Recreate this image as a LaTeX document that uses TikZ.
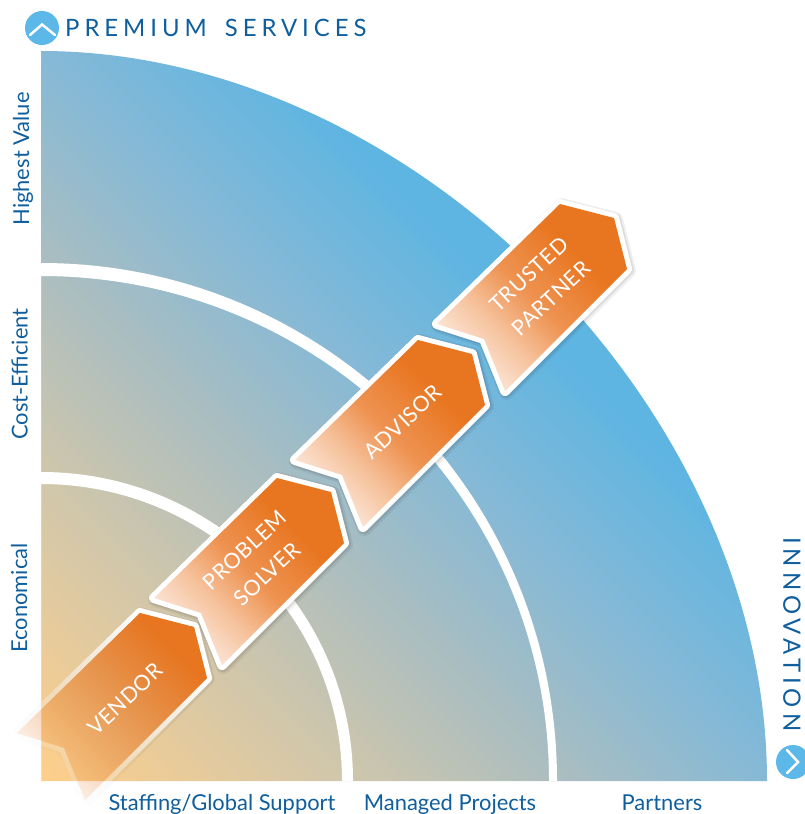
\documentclass[tikz,border=0pt]{standalone}
\usepackage{fontspec}
\usetikzlibrary{fadings}
\setmainfont{Lato}
\definecolor{bgwarm}{HTML}{FFCF8A}
\definecolor{bgwarmb}{HTML}{D2C7AA}
\definecolor{bgmid}{HTML}{AEBEBE}
\definecolor{bgmidb}{HTML}{86B9D6}
\definecolor{bgblue}{HTML}{5FB5E2}
\definecolor{ribon}{HTML}{E8751F}
\definecolor{riblight}{HTML}{FBE3D3}
\definecolor{ribmid}{HTML}{F6C29C}
\definecolor{ribmidb}{HTML}{EE9352}
\definecolor{inkblue}{HTML}{0F5F9E}
\definecolor{dotblue}{HTML}{5BB8E8}
\pgfdeclarehorizontalshading{bgshade}{1300bp}{color(0bp)=(bgwarm); color(209bp)=(bgwarmb); color(357bp)=(bgmid); color(515bp)=(bgmidb); color(670bp)=(bgblue); color(1300bp)=(bgblue)}
\pgfdeclarehorizontalshading{ribshade}{420bp}{color(0bp)=(riblight); color(40bp)=(ribmid); color(85bp)=(ribmidb); color(150bp)=(ribon); color(300bp)=(ribon)}
\pgfdeclarehorizontalshading{vfadeshade}{420bp}{color(0bp)=(black!88!white); color(172bp)=(white); color(300bp)=(white)}
\pgfdeclarefading{vfade}{\pgfuseshading{vfadeshade}}
\newcommand{\ribbonshape}{(140,613) -- (194,627) -- (207,678) -- (85,800) -- (64,748) -- (17,733) -- cycle}
\tikzset{
  ribbontext/.style={text=white,font=\fontsize{21.5}{33}\selectfont\addfontfeature{LetterSpace=3},rotate=43,align=center,inner sep=0pt},
  axislabel/.style={text=inkblue,font=\fontsize{22}{26}\selectfont,inner sep=0pt,anchor=base},
  headlabel/.style={text=inkblue,font=\fontsize{24}{28}\selectfont\addfontfeature{LetterSpace=20.7},inner sep=0pt},
  chevron/.style={draw=white,line width=2.5bp,line cap=round,line join=miter},
  dot/.style={fill=dotblue,draw=none}
}
\newcommand{\opaqueribbon}[2]{%
  \begin{scope}[shift={(#1,#2)}]
    \draw[black,opacity=.06,line width=15bp,line join=round,shift={(1.5,1.5)}] \ribbonshape;
    \draw[black,opacity=.08,line width=12bp,line join=round,shift={(1,1)}] \ribbonshape;
    \draw[white,line width=10bp,line join=round] \ribbonshape;
    \begin{scope}
      \clip \ribbonshape;
      \node[rotate=45,anchor=west,inner sep=0pt,outer sep=0pt] at (17,733) {\pgfuseshading{ribshade}};
    \end{scope}
  \end{scope}}
\begin{document}
\begin{tikzpicture}[x=1bp,y=-1bp]
\useasboundingbox (0,0) rectangle (805,814);
\fill[white] (0,0) rectangle (805,814);
% background sectors with a single gradient
\begin{scope}
  \clip (41,781) -- (41,51) .. controls (411,51) and (767,409) .. (767,781) -- cycle;
  \node[rotate=45,anchor=west,inner sep=0pt,outer sep=0pt] at (41,781) {\pgfuseshading{bgshade}};
\end{scope}
% white rings
\fill[white,even odd rule] (41,781) -- (41,263) arc[start angle=90,end angle=0,x radius=516bp,y radius=518bp] -- cycle
  (41,781) -- (41,276) arc[start angle=90,end angle=0,x radius=508bp,y radius=505bp] -- cycle;
\fill[white,even odd rule] (41,781) -- (41,472) arc[start angle=90,end angle=0,x radius=312bp,y radius=309bp] -- cycle
  (41,781) -- (41,484) arc[start angle=90,end angle=0,x radius=301bp,y radius=297bp] -- cycle;
% ribbons
\begin{scope}
  \pgfsetfading{vfade}{\pgftransformshift{\pgfpointxy{123}{627}}\pgftransformrotate{45}}
  \begin{scope}[even odd rule]
    \clip (-20,-20) rectangle (825,834) \ribbonshape;
    \draw[black,opacity=.07,line width=13bp,line join=round,shift={(1,1)}] \ribbonshape;
    \draw[white,line width=10bp,line join=round] \ribbonshape;
  \end{scope}
  \fill[ribon] \ribbonshape;
\end{scope}
\opaqueribbon{137}{-135}
\opaqueribbon{278}{-273}
\opaqueribbon{420}{-409}
% ribbon texts
\node[ribbontext] (vendor) at (125,699) {VENDOR};
\node[ribbontext] (solver) at (256,562) {PROBLEM\\SOLVER};
\node[ribbontext] (advisor) at (403,422) {ADVISOR};
\node[ribbontext] (partner) at (540,286) {TRUSTED\\PARTNER};
% axis labels
\node[axislabel] (staffing) at (222,810) {Staffing/Global Support};
\node[axislabel] (managed) at (450,810) {Managed Projects};
\node[axislabel] (partners) at (662,810) {Partners};
\node[axislabel,rotate=90] (highest) at (29,159) {Highest Value};
\node[axislabel,rotate=90] (cost) at (27.5,374) {Cost-Efficient};
\node[axislabel,rotate=90] (econ) at (27,598) {Economical};
% headings
\node[dot,circle,minimum size=34bp,inner sep=0pt] (updot) at (42,28) {};
\draw[chevron] (30,35) -- (42,24.5) -- (55,35);
\node[headlabel,anchor=west] (premium) at (65,27.5) {PREMIUM\hspace{7bp} SERVICES};
\node[dot,circle,minimum size=34bp,inner sep=0pt] (rightdot) at (793,762) {};
\draw[chevron] (787,750) -- (798,762) -- (787,773);
\node[headlabel,rotate=-90,anchor=west] (innov) at (792,537) {INNOVATION};
\end{tikzpicture}
\end{document}
